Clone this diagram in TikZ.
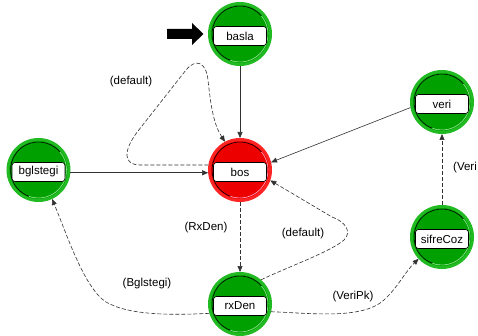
\documentclass[tikz,border=0pt]{standalone}
\usepackage{fontspec}
\setmainfont{Liberation Sans}
\usetikzlibrary{arrows.meta}

\definecolor{stgreen}{RGB}{0,160,0}
\definecolor{stgreenring}{RGB}{34,186,34}
\definecolor{stgreenlight}{RGB}{150,230,150}
\definecolor{stred}{RGB}{236,0,0}
\definecolor{stredring}{RGB}{255,36,36}
\definecolor{stredlight}{RGB}{255,170,200}
\definecolor{edgeink}{RGB}{50,50,50}

\begin{document}
\begin{tikzpicture}[x=1pt, y=-1pt,
  font=\fontsize{11.5}{13}\selectfont,
  state/.style={circle, minimum size=61pt, inner sep=0pt, line width=3pt,
    fill=stgreen, draw=stgreenring,
    path picture={
      \draw[black, line width=0.6pt] (path picture bounding box.center) ++(40:28pt)
        arc[start angle=40, end angle=250, radius=28pt];
      \draw[stgreenlight, line width=0.6pt] (path picture bounding box.center) ++(250:28pt)
        arc[start angle=250, end angle=400, radius=28pt];
    }},
  initstate/.style={circle, minimum size=61pt, inner sep=0pt, line width=3pt,
    fill=stred, draw=stredring,
    path picture={
      \draw[black, line width=0.6pt] (path picture bounding box.center) ++(40:28pt)
        arc[start angle=40, end angle=250, radius=28pt];
      \draw[stredlight, line width=0.6pt] (path picture bounding box.center) ++(250:28pt)
        arc[start angle=250, end angle=400, radius=28pt];
    }},
  namebox/.style={draw=black, fill=white, rounded corners=3pt, line width=0.6pt,
    minimum width=53pt, minimum height=19pt, inner sep=0pt},
  tr/.style={draw=edgeink, line width=0.6pt, -{Triangle[length=6pt,width=5pt]}},
  dtr/.style={tr, dash pattern=on 4pt off 2pt},
  elabel/.style={inner sep=1pt, text=black}]

% canvas
\fill[white] (0,0) rectangle (478,336);
\useasboundingbox (0,0) rectangle (478,336);

% states
\node[state]     (basla)    at (240,34)  {};
\node[initstate] (bos)      at (240,170) {};
\node[state]     (bglstegi) at (38.5,170) {};
\node[state]     (veri)     at (442,102) {};
\node[state]     (sifreCoz) at (442,237) {};
\node[state]     (rxDen)    at (240,304) {};

% state names
\node[namebox] (basla-t)    at (240,36)   {basla};
\node[namebox] (bos-t)      at (240,172)  {bos};
\node[namebox] (bglstegi-t) at (38.5,172) {bglstegi};
\node[namebox] (veri-t)     at (442,104)  {veri};
\node[namebox] (sifreCoz-t) at (442,239)  {sifreCoz};
\node[namebox] (rxDen-t)    at (240,306)  {rxDen};

% start marker
\fill[black] (167,29) -- (192,29) -- (192,23) -- (203.5,34) -- (192,45)
  -- (192,39) -- (167,39) -- cycle;

% solid transitions
\draw[tr] (basla) -- (bos);
\draw[tr] (bglstegi.-5) -- (bos.185);
\draw[tr] (veri.190) -- (bos.14);

% dashed transitions
\draw[dtr] (bos) -- (rxDen);
\draw[dtr] (sifreCoz) -- (veri);

\draw[dtr] (bos.171) -- (140,165)
  .. controls (124,165) and (122,152) .. (138,131)
  -- (186,70)
  .. controls (196,58) and (206,62) .. (208,80)
  .. controls (211,108) and (214,125) .. (bos.118);

\draw[dtr] (rxDen.49) .. controls (290,266) and (330,252) .. (344,240)
  .. controls (352,232) and (346,222) .. (332,217)
  -- (bos.-19);

\draw[dtr] (rxDen.197) .. controls (175,315) and (130,316) .. (106,302)
  .. controls (84,288) and (66,232) .. (bglstegi.-65);

\draw[dtr] (rxDen.-14) .. controls (310,313) and (362,320) .. (384,300)
  .. controls (398,287) and (405,272) .. (sifreCoz.223);

% transition labels
\node[elabel] (l-self)  at (131,82)  {(default)};
\node[elabel] (l-rx)    at (206,228) {(RxDen)};
\node[elabel] (l-back)  at (303,234) {(default)};
\node[elabel] (l-bgl)   at (147,284) {(Bglstegi)};
\node[elabel] (l-vpk)   at (353,297) {(VeriPk)};
\node[elabel, anchor=west] (l-veri) at (452,168) {(Veri};
\end{tikzpicture}
\end{document}
